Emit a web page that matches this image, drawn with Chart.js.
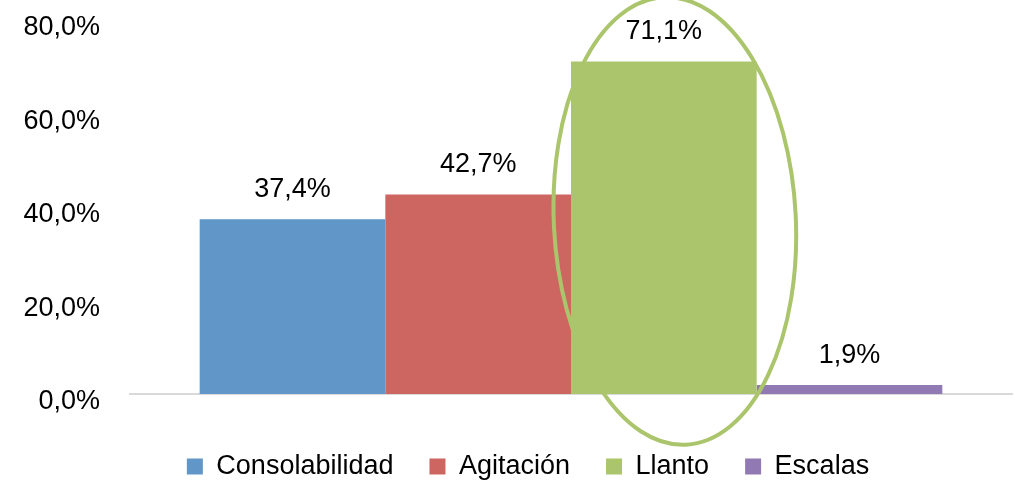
<!DOCTYPE html>
<html>
<head>
<meta charset="utf-8">
<script src="https://cdn.jsdelivr.net/npm/chart.js@4/dist/chart.umd.min.js"></script>
<style>
  html, body { margin: 0; padding: 0; background: #fff; }
  #wrap { width: 1015px; height: 482px; position: relative; }
</style>
</head>
<body>
<div id="wrap"><canvas id="chart"></canvas></div>
<script>
// datos
const categories = ['Consolabilidad', 'Agitación', 'Llanto', 'Escalas'];
const values = [37.4, 42.7, 71.1, 1.9];
const colors = ['#6096C8', '#CD6661', '#ABC56C', '#9179B3'];
const yTicks = [0, 20, 40, 60, 80];

const FONT = "'Liberation Sans', sans-serif";
const fmt = v => v.toFixed(1).replace('.', ',') + '%';

// etiquetas encima de cada barra
const barLabels = {
    id: 'barLabels',
    afterDatasetsDraw(chart) {
        const ctx = chart.ctx;
        ctx.save();
        ctx.fillStyle = '#000';
        ctx.font = '27px ' + FONT;
        ctx.textAlign = 'center';
        ctx.textBaseline = 'middle';
        chart.data.datasets.forEach((ds, i) => {
            const el = chart.getDatasetMeta(i).data[0];
            ctx.fillText(fmt(ds.data[0]), el.x, el.y - 30);
        });
        ctx.restore();
    }
};

// elipse alrededor de la barra de Llanto
const highlight = {
    id: 'highlight',
    afterDraw(chart) {
        const el = chart.getDatasetMeta(2).data[0];
        const y = chart.scales.y;
        const ctx = chart.ctx;
        ctx.save();
        ctx.strokeStyle = '#ABC56C';
        ctx.lineWidth = 4;
        ctx.beginPath();
        ctx.ellipse(el.x + 11, y.getPixelForValue(37), 121, 224, -0.05, 0, Math.PI * 2);
        ctx.stroke();
        ctx.restore();
    }
};

// la leyenda va un poco a la derecha, centrada bajo las barras
const legendShift = {
    id: 'legendShift',
    afterLayout(chart) {
        chart.legend.left += 22;
        chart.legend.right += 22;
    }
};

new Chart(document.getElementById('chart'), {
    type: 'bar',
    data: {
        labels: [''],
        datasets: categories.map((c, i) => ({
            label: c,
            data: [values[i]],
            backgroundColor: colors[i],
            borderWidth: 0
        }))
    },
    options: {
        responsive: true,
        maintainAspectRatio: false,
        animation: false,
        layout: { padding: { top: 20, right: 3, bottom: -8, left: 0 } },
        datasets: { bar: { categoryPercentage: 0.842, barPercentage: 1 } },
        plugins: {
            legend: {
                position: 'bottom',
                labels: {
                    boxWidth: 16,
                    boxHeight: 16,
                    padding: 36,
                    color: '#000',
                    font: { family: FONT, size: 27 }
                }
            },
            tooltip: { enabled: false }
        },
        scales: {
            x: {
                grid: { display: false, drawTicks: false },
                border: { display: true, color: '#D9D9D9', width: 2 },
                ticks: { display: false },
                afterFit: axis => { axis.height += 23; }
            },
            y: {
                min: 0,
                max: 80,
                afterBuildTicks: axis => { axis.ticks = yTicks.map(v => ({ value: v })); },
                afterFit: axis => { axis.width = 130; axis.paddingTop = 0; },
                grid: { display: false, drawTicks: false },
                border: { display: false },
                ticks: {
                    padding: 30,
                    labelOffset: 8,
                    color: '#000',
                    font: { family: FONT, size: 27 },
                    callback: v => fmt(v)
                }
            }
        }
    },
    plugins: [barLabels, highlight, legendShift]
});
</script>
</body>
</html>
